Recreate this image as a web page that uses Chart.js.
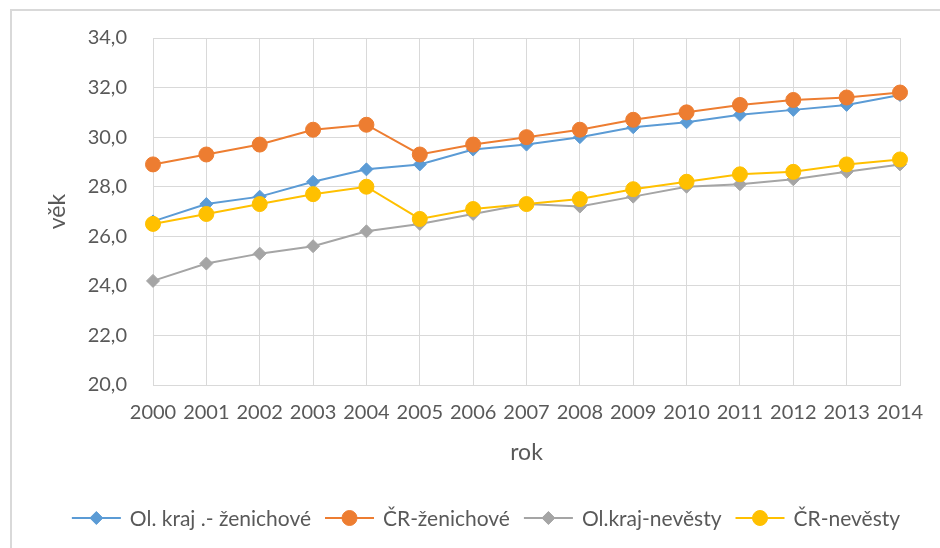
<!DOCTYPE html>
<html>
<head>
<meta charset="utf-8">
<script src="https://cdn.jsdelivr.net/npm/chart.js@4/dist/chart.umd.min.js"></script>
<style>
  html, body { margin: 0; padding: 0; background: #ffffff; }
  #wrap { position: relative; width: 940px; height: 548px; overflow: hidden; }
  #frame { position: absolute; left: 10px; top: 9px; width: 1000px; height: 600px;
           border-left: 2px solid #d9d9d9; border-top: 2px solid #d9d9d9; pointer-events: none; }
  canvas { position: absolute; left: 0; top: 0; }
</style>
</head>
<body>
<div id="wrap">
  <canvas id="c" width="940" height="548"></canvas>
  <div id="frame"></div>
</div>
<script>
const years = ['2000','2001','2002','2003','2004','2005','2006','2007','2008','2009','2010','2011','2012','2013','2014'];
const olKrajZenichove = [26.6, 27.3, 27.6, 28.2, 28.7, 28.9, 29.5, 29.7, 30.0, 30.4, 30.6, 30.9, 31.1, 31.3, 31.7];
const crZenichove     = [28.9, 29.3, 29.7, 30.3, 30.5, 29.3, 29.7, 30.0, 30.3, 30.7, 31.0, 31.3, 31.5, 31.6, 31.8];
const olKrajNevesty   = [24.2, 24.9, 25.3, 25.6, 26.2, 26.5, 26.9, 27.3, 27.2, 27.6, 28.0, 28.1, 28.3, 28.6, 28.9];
const crNevesty       = [26.5, 26.9, 27.3, 27.7, 28.0, 26.7, 27.1, 27.3, 27.5, 27.9, 28.2, 28.5, 28.6, 28.9, 29.1];
const seriesNames = ['Ol. kraj .- ženichové', 'ČR-ženichové', 'Ol.kraj-nevěsty', 'ČR-nevěsty'];
const yTitle = 'věk';
const xTitle = 'rok';

const FONT = 'Lato, "Open Sans", sans-serif';
const TXT = '#595959';

function ds(label, data, color, style, radius, order) {
  return {
    label, data, order,
    borderColor: color, backgroundColor: color,
    pointBackgroundColor: color, pointBorderColor: color,
    borderWidth: 2, pointStyle: style, pointRadius: radius, pointBorderWidth: 1,
    tension: 0, fill: false
  };
}

const legendPlugin = {
  id: 'lineLegend',
  afterDraw(chart) {
    const ctx = chart.ctx;
    const sets = chart.data.datasets;
    ctx.save();
    ctx.font = '21px ' + FONT;
    const lineLen = 49, gapText = 9, gapItem = 14;
    const widths = sets.map(d => lineLen + gapText + ctx.measureText(d.label).width);
    const total = widths.reduce((a, b) => a + b, 0) + gapItem * (sets.length - 1);
    const centerX = (chart.width + 32) / 2;
    let x = centerX - total / 2;
    const y = chart.height - 30;
    sets.forEach((d, i) => {
      ctx.strokeStyle = d.borderColor;
      ctx.lineWidth = 2;
      ctx.beginPath();
      ctx.moveTo(x, y);
      ctx.lineTo(x + lineLen, y);
      ctx.stroke();
      ctx.fillStyle = d.pointBackgroundColor;
      ctx.strokeStyle = d.pointBorderColor;
      ctx.lineWidth = 1;
      Chart.helpers.drawPoint(ctx, {
        pointStyle: d.pointStyle, radius: d.pointRadius, borderWidth: 1, rotation: 0
      }, x + lineLen / 2, y);
      ctx.fillStyle = TXT;
      ctx.textBaseline = 'middle';
      ctx.textAlign = 'left';
      ctx.fillText(d.label, x + lineLen + gapText, y + 1);
      x += widths[i] + gapItem;
    });
    ctx.restore();
  }
};

new Chart(document.getElementById('c'), {
  type: 'line',
  data: {
    labels: years,
    datasets: [
      ds(seriesNames[0], olKrajZenichove, '#5B9BD5', 'rectRot', 6.5, 3),
      ds(seriesNames[1], crZenichove, '#ED7D31', 'circle', 7.5, 2),
      ds(seriesNames[2], olKrajNevesty, '#A5A5A5', 'rectRot', 6.5, 1),
      ds(seriesNames[3], crNevesty, '#FFC000', 'circle', 7.5, 0)
    ]
  },
  options: {
    responsive: false,
    animation: false,
    devicePixelRatio: 1,
    layout: { padding: { left: 0, right: 40, top: 37, bottom: 78 } },
    plugins: { legend: { display: false }, tooltip: { enabled: false } },
    scales: {
      x: {
        type: 'category',
        offset: false,
        grid: { color: '#d9d9d9', lineWidth: 1, drawTicks: false },
        border: { color: '#d9d9d9', width: 1 },
        ticks: { color: TXT, font: { family: FONT, size: 20 }, padding: 16,
                 maxRotation: 0, minRotation: 0, autoSkip: false },
        title: { display: true, text: xTitle, color: TXT, font: { family: FONT, size: 23 },
                 padding: { top: 0, bottom: 4 } },
        afterFit(scale) { scale.height = 85; }
      },
      y: {
        min: 20, max: 34,
        grid: { color: '#d9d9d9', lineWidth: 1, drawTicks: false },
        border: { color: '#d9d9d9', width: 1 },
        ticks: { stepSize: 2, color: TXT, font: { family: FONT, size: 20 }, padding: 26,
                 callback: v => Number(v).toFixed(1).replace('.', ',') },
        title: { display: true, text: yTitle, color: TXT, font: { family: FONT, size: 23 },
                 padding: { top: 44, bottom: 0 } },
        afterFit(scale) { scale.width = 153; }
      }
    }
  },
  plugins: [legendPlugin]
});
</script>
</body>
</html>
